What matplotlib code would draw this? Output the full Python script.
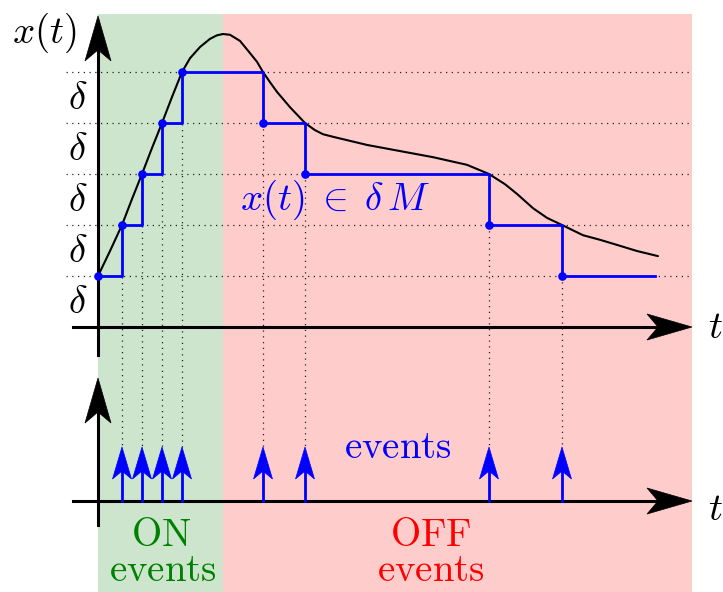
import matplotlib
matplotlib.use("Agg")
import matplotlib.pyplot as plt
from matplotlib.patches import Polygon, Rectangle
from matplotlib.transforms import Affine2D, ScaledTranslation

plt.rcParams["mathtext.fontset"] = "cm"

# Signal x(t): time in arbitrary units, amplitude in units of delta
curve_t = [0.0, 1.2, 2.4, 3.4, 4.4, 5.4, 6.4, 7.4, 8.4, 9.2, 10.2, 11.2, 11.9,
           12.5, 13.2, 14.2, 15.2, 15.9, 16.5, 17.2, 17.9, 19.2, 20.7, 21.7,
           22.5, 23.5, 25.2, 26.9, 30.2, 33.5, 36.9, 39.1, 40.7, 41.9, 43.5,
           44.9, 46.4, 48.5, 50.2, 51.9, 53.9, 56.0]
curve_x = [1.0, 1.49, 2.0, 2.51, 3.0, 3.51, 4.0, 4.51, 5.0, 5.27, 5.49, 5.65, 5.72,
           5.745, 5.73, 5.61, 5.37, 5.2, 5.0, 4.8, 4.61, 4.31, 4.0, 3.86,
           3.78, 3.73, 3.65, 3.57, 3.45, 3.33, 3.18, 3.0, 2.80, 2.61, 2.33,
           2.14, 2.0, 1.80, 1.71, 1.61, 1.49, 1.39]

# Level-crossing events: times and the quantised level reached
event_t = [0.0, 2.4, 4.4, 6.4, 8.4, 16.5, 20.7, 39.1, 46.4]
event_level = [1, 2, 3, 4, 5, 4, 3, 2, 1]
hold_end_t = 55.7

levels = [1, 2, 3, 4, 5]
delta_label_pos = [0.5, 1.5, 2.5, 3.5, 4.5]

on_end_t = 12.5
region_end_t = 59.4

# Layout of the two panels (in the same units)
lower_axis_v = -3.412
event_tip_v = -2.353

BLUE = "#0000ff"
GREEN_BG = "#cce5cc"
RED_BG = "#ffcccc"

fig = plt.figure(figsize=(7.23, 5.92), dpi=100)
ax = fig.add_axes([0, 0, 1, 1])
ax.set_xlim(-9.8, 62.5)
ax.set_ylim(-5.196, 6.412)
ax.axis("off")

PX_V = 51.0   # pixels per unit of amplitude
PX_T = 10.0   # pixels per unit of time

top_v = 6.137
bottom_v = -5.196
ax.add_patch(Rectangle((0, bottom_v), on_end_t, top_v - bottom_v,
                       facecolor=GREEN_BG, edgecolor="none", zorder=0))
ax.add_patch(Rectangle((on_end_t, bottom_v), region_end_t - on_end_t,
                       top_v - bottom_v, facecolor=RED_BG, edgecolor="none", zorder=0))

dot_style = dict(color="#222222", lw=0.9, linestyle=(0, (1, 3.6)), zorder=1)
for lv in levels:
    ax.plot([-3.2, region_end_t], [lv, lv], **dot_style)
for t, lv in zip(event_t[1:], event_level[1:]):
    ax.plot([t, t], [lv, event_tip_v], **dot_style)


def arrow_head(tip_t, tip_v, direction, length, width, notch, color):
    # stealth-shaped head, sizes in pixels, tip at the origin pointing up
    verts = [(0, 0), (-width / 2, -length), (0, -length + notch), (width / 2, -length)]
    if direction == "right":
        verts = [(y, -x) for x, y in verts]
    tr = Affine2D() + ScaledTranslation(tip_t, tip_v, ax.transData)
    ax.add_patch(Polygon(verts, closed=True, transform=tr, facecolor=color,
                         edgecolor=color, lw=0.5, zorder=6))


AX_LW = 2.2
# upper panel axes
ax.plot([-2.5, region_end_t - 30 / PX_T], [0, 0], color="black", lw=AX_LW, zorder=5)
ax.plot([0, 0], [-0.55, 6.1 - 30 / PX_V], color="black", lw=AX_LW, zorder=5)
arrow_head(region_end_t, 0, "right", 45, 26, 11, "black")
arrow_head(0, 6.1, "up", 45, 26, 11, "black")

# lower panel axes
ax.plot([-2.5, region_end_t - 30 / PX_T], [lower_axis_v, lower_axis_v], color="black",
        lw=AX_LW, zorder=5)
ax.plot([0, 0], [-3.88, -1.0 - 30 / PX_V], color="black", lw=AX_LW, zorder=5)
arrow_head(region_end_t, lower_axis_v, "right", 45, 26, 11, "black")
arrow_head(0, -1.0, "up", 45, 26, 11, "black")

# signal and its quantised version
ax.plot(curve_t, curve_x, color="black", lw=1.5, zorder=3, solid_capstyle="round")
ax.plot(event_t + [hold_end_t], event_level + [event_level[-1]],
        drawstyle="steps-post", color=BLUE, lw=2.0, zorder=4)
ax.plot(event_t, event_level, "o", color=BLUE, ms=5.2, zorder=5)

# event arrows
for t in event_t[1:]:
    ax.plot([t, t], [lower_axis_v, event_tip_v - 20 / PX_V], color=BLUE, lw=2.0, zorder=5)
    arrow_head(t, event_tip_v, "up", 32, 19, 8, BLUE)

FS = 28
ax.text(-8.6, 5.57, r"$x(t)$", fontsize=FS, ha="left", va="baseline")
for v in delta_label_pos:
    ax.text(-2.0, v, r"$\delta$", fontsize=FS, ha="center", va="center")
ax.text(61.0, -0.216, r"$t$", fontsize=FS, ha="left", va="baseline")
ax.text(61.0, -3.78, r"$t$", fontsize=FS, ha="left", va="baseline")

ax.text(14.2, 2.29, r"$x(t)\;\in\;\delta\,M$", fontsize=FS, color=BLUE,
        ha="left", va="baseline")
ax.text(30.0, -2.57, r"$\mathrm{events}$", fontsize=FS, color=BLUE,
        ha="center", va="baseline")

ax.text(6.3, -4.30, r"$\mathrm{ON}$", fontsize=FS, color="#008000",
        ha="center", va="baseline")
ax.text(6.5, -4.98, r"$\mathrm{events}$", fontsize=FS, color="#008000",
        ha="center", va="baseline")
ax.text(33.3, -4.30, r"$\mathrm{OFF}$", fontsize=FS, color="#ff0000",
        ha="center", va="baseline")
ax.text(33.3, -4.98, r"$\mathrm{events}$", fontsize=FS, color="#ff0000",
        ha="center", va="baseline")

fig.savefig("out.png", dpi=100)
